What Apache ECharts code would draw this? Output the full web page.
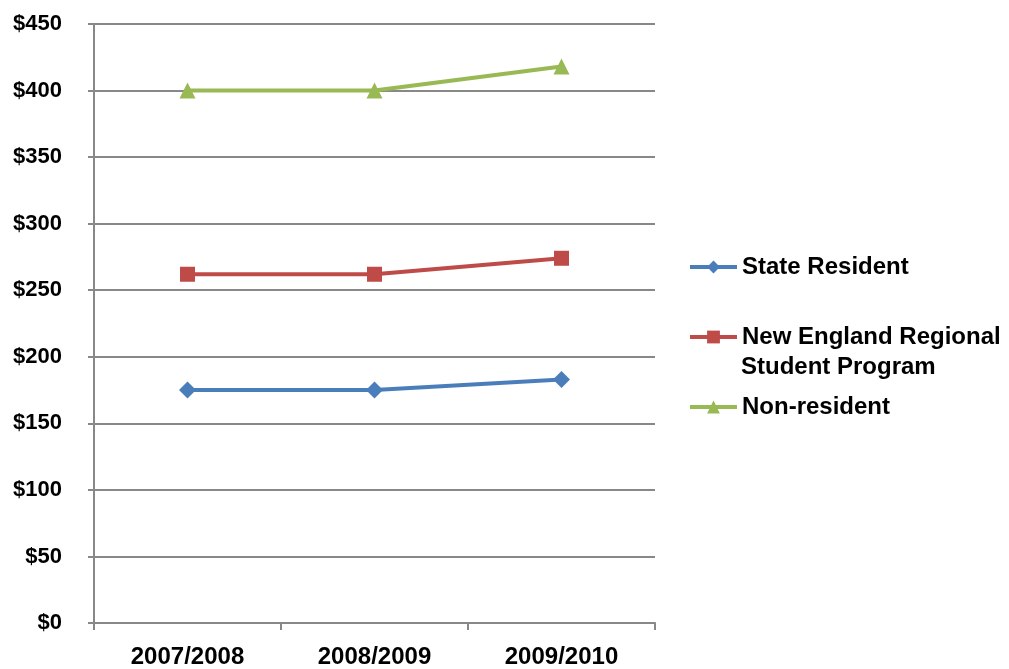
<!DOCTYPE html>
<html><head><meta charset="utf-8">
<script src="https://cdn.jsdelivr.net/npm/echarts@6/dist/echarts.min.js"></script>
<style>html,body{margin:0;padding:0;background:#fff}#c{width:1009px;height:669px}</style>
</head><body><div id="c"></div>
<script>
const categories = ['2007/2008', '2008/2009', '2009/2010'];
const stateResident = [175, 175, 183];
const newEngland = [262, 262, 274];
const nonResident = [400, 400, 418];
const seriesNames = ['State Resident', 'New England Regional\nStudent Program', 'Non-resident'];

const font = 'Liberation Sans, Arial, sans-serif';
const txt = {fontFamily: font, fontWeight: 'bold', fontSize: 22, color: '#000'};
const chart = echarts.init(document.getElementById('c'));
function leg(name, top) {
  return {show: true, data: [name], orient: 'vertical', left: 688, top: top,
    padding: 0, itemWidth: 47, itemHeight: 16, itemGap: 0,
    lineStyle: {width: 4},
    formatter: n => n.split('\n')[0],
    textStyle: Object.assign({}, txt, {fontSize: 24})};
}
chart.setOption({
  animation: false,
  backgroundColor: '#fff',
  grid: {left: 94, right: 354, top: 24, bottom: 46},
  legend: [leg(seriesNames[0], 255), leg(seriesNames[1], 325), leg(seriesNames[2], 395)],
  graphic: [{type: 'text', left: 741, top: 355,
    style: {text: seriesNames[1].split('\n')[1], font: 'bold 24px ' + font, fill: '#000'}}],
  xAxis: {type: 'category', data: categories, boundaryGap: true,
    axisLine: {lineStyle: {color: '#888', width: 2}},
    axisTick: {show: true, length: 7, lineStyle: {color: '#888', width: 2}},
    axisLabel: Object.assign({}, txt, {fontSize: 24, margin: 22})},
  yAxis: {type: 'value', min: 0, max: 450, interval: 50,
    axisLine: {show: true, lineStyle: {color: '#888', width: 2}},
    axisTick: {show: true, length: 6, lineStyle: {color: '#888', width: 2}},
    splitLine: {lineStyle: {color: '#888', width: 2}},
    axisLabel: Object.assign({}, txt, {margin: 32, formatter: v => '$' + v})},
  series: [
    {name: seriesNames[0], type: 'line', data: stateResident, symbol: 'diamond', symbolSize: 17,
      itemStyle: {color: '#4A7EBB'}, lineStyle: {color: '#4A7EBB', width: 4}},
    {name: seriesNames[1], type: 'line', data: newEngland, symbol: 'rect', symbolSize: 15,
      itemStyle: {color: '#BE4B48'}, lineStyle: {color: '#BE4B48', width: 4}},
    {name: seriesNames[2], type: 'line', data: nonResident, symbol: 'triangle', symbolSize: 16,
      itemStyle: {color: '#98B954'}, lineStyle: {color: '#98B954', width: 4}}
  ]
});
</script></body></html>
